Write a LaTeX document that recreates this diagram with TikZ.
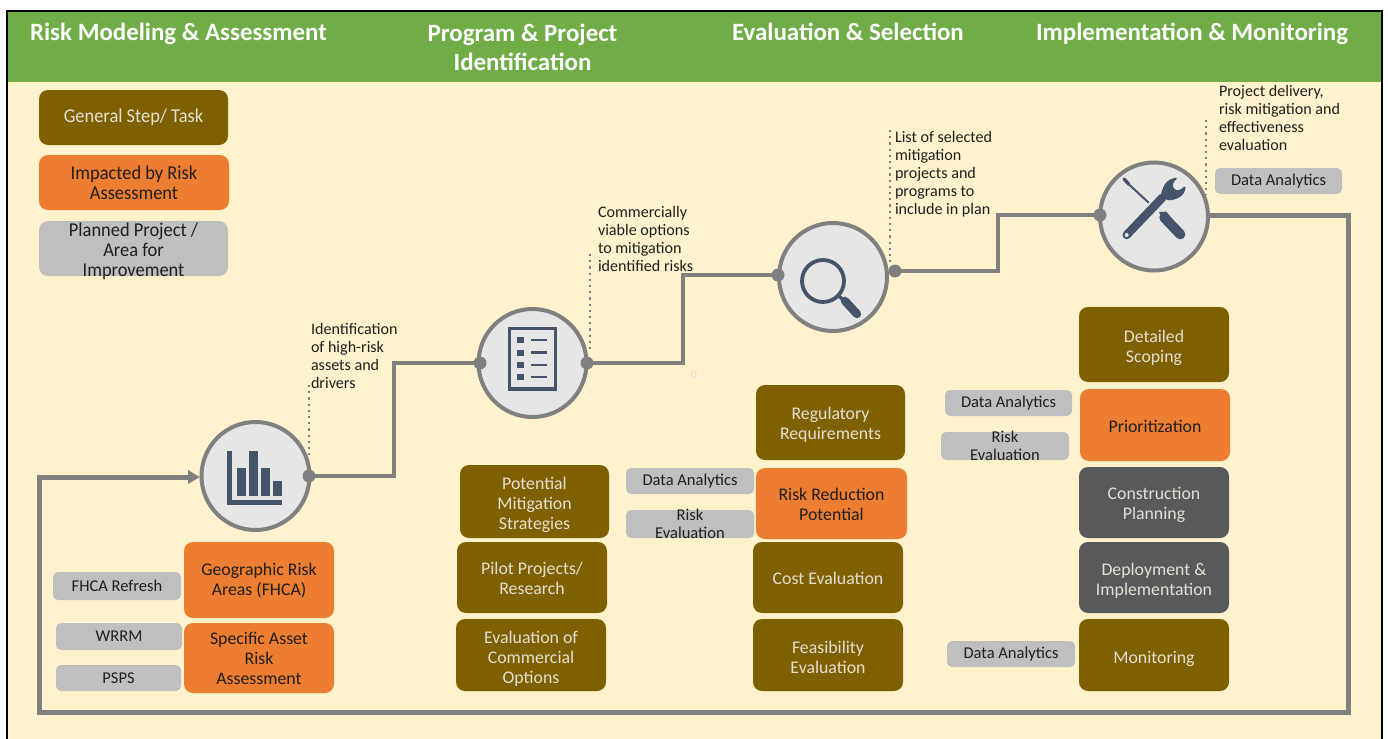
\documentclass[tikz,border=0pt]{standalone}
\usepackage{fontspec}
\setmainfont{Carlito}
\usetikzlibrary{arrows.meta}
\definecolor{cream}{HTML}{FFF2CC}
\definecolor{hdr}{HTML}{70AD47}
\definecolor{brn}{HTML}{7F6000}
\definecolor{org}{HTML}{ED7D31}
\definecolor{gry}{HTML}{BFBFBF}
\definecolor{dgr}{HTML}{58595B}
\definecolor{line}{HTML}{808080}
\definecolor{disc}{HTML}{E6E6E6}
\definecolor{icon}{HTML}{44546A}
\definecolor{ltxt}{HTML}{E3DFD3}
\definecolor{dtxt}{HTML}{1F1F1F}
\tikzset{
  every node/.style={inner sep=0pt,outer sep=0pt,align=flush center},
  rbox/.style={rounded corners=4.5pt,font=\fontsize{8.9}{10}\selectfont},
  brownbox/.style={rbox,fill=brn,text=ltxt},
  orangebox/.style={rbox,fill=org,text=dtxt},
  darkbox/.style={rbox,fill=dgr,text=ltxt},
  graybox/.style={rbox,fill=gry,text=dtxt,rounded corners=2.5pt,font=\fontsize{8.25}{9}\selectfont},
  legendfont/.style={font=\fontsize{9.8}{10}\selectfont\addfontfeature{FakeStretch=0.94}},
  legendgray/.style={rbox,fill=gry,text=dtxt,legendfont},
  headtext/.style={text=white,font=\bfseries\fontsize{12.45}{14.6}\selectfont},
  note/.style={align=left,anchor=north west,text=dtxt,font=\fontsize{8.05}{9}\selectfont},
  disk/.style={circle,draw=line,fill=disc,line width=2pt,minimum size=54pt},
  flow/.style={draw=line,line width=2.3pt},
  loopflow/.style={draw=line,line width=2.5pt,line join=miter},
  lead/.style={draw=line,line width=1.1pt,dotted},
  pin/.style={circle,fill=line,minimum size=6.5pt},
  glyph/.style={fill=icon,draw=none},
  glyphline/.style={draw=icon,line cap=round}
}
% \bx[text shift down, px]{name}{style}{x1}{y1}{x2}{y2}{text}
\newcommand{\bx}[8][0]{%
  \node[#3,minimum width={(#6-#4)*0.5pt},minimum height={(#7-#5)*0.5pt}] (#2) at ({(#4+#6)/2},{(#5+#7)/2}) {};
  \node[#3,fill=none,text width={(#6-#4)*0.5pt}] (#2t) at ({(#4+#6)/2},{(#5+#7)/2+#1}) {#8};}
\begin{document}
\begin{tikzpicture}[x=0.5pt,y=-0.5pt]
\useasboundingbox (0,0) rectangle (1388,739);
\fill[white] (0,0) rectangle (1388,739);
\fill[cream] (7,11) rectangle (1382,739);
\fill[hdr] (7,11) rectangle (1382,82);
\draw[black,line width=1pt] (7,739) -- (7,11) -- (1382,11) -- (1382,739);

% header
\node[headtext,anchor=base] (h1) at (178.5,40) {Risk Modeling \& Assessment};
\node[headtext] (h2) at (522.5,47) {Program \& Project\\Identification};
\node[headtext,anchor=base] (h3) at (848,40) {Evaluation \& Selection};
\node[headtext,anchor=base] (h4) at (1192,40) {Implementation \& Monitoring};

% legend
\bx{l1}{brownbox,legendfont}{39}{90}{228}{145}{General Step/ Task}
\bx[0.5]{l2}{orangebox,legendfont}{39}{155}{229}{210}{Impacted by Risk\\Assessment}
\bx[3]{l3}{legendgray}{39}{221}{228}{276}{Planned Project /\\Area for\\Improvement}

% disks
\node[disk] (c1) at (255.5,476) {};
\node[disk] (c2) at (532.5,363) {};
\node[disk] (c3) at (833,277) {};
\node[disk] (c4) at (1154,216.5) {};

% named junctions
\coordinate (p1) at (309,476);
\coordinate (p2in) at (480,363);
\coordinate (p2) at (587,363);
\coordinate (p3in) at (778,275);
\coordinate (p3) at (895,271);
\coordinate (p4in) at (1100,215);
\coordinate (c4out) at (1209,215);
\coordinate (k1) at (1348,215);
\coordinate (k2) at (1348,712);
\coordinate (k3) at (39,712);
\coordinate (k4) at (39,477);
\coordinate (c1in) at (200,477);

% flows
\draw[flow] (p1) -- (394,476) -- (394,363) -- (p2in);
\draw[flow] (p2) -- (683,363) -- (683,275) -- (p3in);
\draw[flow] (p3) -- (998,271) -- (998,215) -- (p4in);
\draw[loopflow,-{Triangle[length=6pt,width=6.5pt]}] (c4out) -- (k1) -- (k2) -- (k3) -- (k4) -- (c1in);

% pins
\foreach \n/\p in {a/p1,b/p2in,c/p2,d/p3in,e/p3,f/p4in}{\node[pin] (pin\n) at (\p) {};}

% dotted leads
\coordinate (d1a) at (309,385); \coordinate (d1b) at (309,456);
\coordinate (d2a) at (590,254); \coordinate (d2b) at (590,350);
\coordinate (d3a) at (890,130); \coordinate (d3b) at (890,265);
\coordinate (d4a) at (1206,120); \coordinate (d4b) at (1206,195);
\draw[lead] (d1a) -- (d1b);
\draw[lead] (d2a) -- (d2b);
\draw[lead] (d3a) -- (d3b);
\draw[lead] (d4a) -- (d4b);

% notes
\node[note] (n1) at (311,323) {Identification\\of high-risk\\assets and\\drivers};
\node[note] (n2) at (598,206) {Commercially\\viable options\\to mitigation\\identified risks};
\node[note] (n3) at (895,131) {List of selected\\mitigation\\projects and\\programs to\\include in plan};
\node[note] (n4) at (1219,85) {Project delivery,\\risk mitigation and\\effectiveness\\evaluation};
\node[text=ltxt,font=\fontsize{6}{7}\selectfont] (zero) at (694,375) {0};

% column 1
\bx[1]{a1}{orangebox}{184}{542}{334}{618}{Geographic Risk\\Areas (FHCA)}
\bx[0]{a2}{orangebox}{184}{623}{334}{693}{Specific Asset\\Risk\\Assessment}
\bx{g1}{graybox}{53}{572}{181}{600}{FHCA Refresh}
\bx{g2}{graybox}{56}{623}{182}{650}{WRRM}
\bx{g3}{graybox}{56}{665}{181}{691}{PSPS}

% column 2
\bx[3]{b1}{brownbox}{460}{465}{609}{538}{Potential\\Mitigation\\Strategies}
\bx[1]{b2}{brownbox}{457}{542}{607}{613}{Pilot Projects/\\Research}
\bx[4]{b3}{brownbox}{456}{619}{606}{691}{Evaluation of\\Commercial\\Options}

% column 3
\bx[2]{e1}{brownbox}{756}{385}{905}{460}{Regulatory\\Requirements}
\bx[1]{e2}{orangebox}{756}{468}{907}{539}{Risk Reduction\\Potential}
\bx[1]{e3}{brownbox}{753}{542}{903}{613}{Cost Evaluation}
\bx[2.5]{e4}{brownbox}{753}{619}{903}{691}{Feasibility\\Evaluation}
\bx{g4}{graybox}{626}{468}{754}{494}{Data Analytics}
\bx{g5}{graybox}{626}{510}{754}{538}{Risk\\Evaluation}

% column 4
\bx[3]{m1}{brownbox}{1079}{307}{1229}{382}{Detailed\\Scoping}
\bx[1]{m2}{orangebox}{1080}{389}{1230}{461}{Prioritization}
\bx[2]{m3}{darkbox}{1079}{467}{1229}{538}{Construction\\Planning}
\bx[3]{m4}{darkbox}{1079}{542}{1229}{613}{Deployment \&\\Implementation}
\bx[4]{m5}{brownbox}{1079}{619}{1229}{691}{Monitoring}
\bx{g6}{graybox}{945}{390}{1072}{416}{Data Analytics}
\bx{g7}{graybox}{941}{432}{1069}{460}{Risk\\Evaluation}
\bx{g8}{graybox}{947}{641}{1075}{667}{Data Analytics}
\bx{g9}{graybox}{1215}{168}{1342}{194}{Data Analytics}

% icon: bar chart
\fill[glyph] (227,451) rectangle (232,505);
\fill[glyph] (227,500) rectangle (282,505);
\fill[glyph] (237,468) rectangle (246,496);
\fill[glyph] (249,451) rectangle (258,496);
\fill[glyph] (261,468) rectangle (270,496);
\fill[glyph] (273,481) rectangle (282,496);

% icon: list
\draw[icon,line width=1.7pt] (509.5,328.5) rectangle (555.5,389);
\foreach \yy in {340,352.5,365,377}{
  \fill[glyph] (517,\yy-3) rectangle (524,\yy+3);
  \fill[glyph] (531,\yy-1.3) rectangle (547,\yy+1.3);
}

% icon: magnifier
\draw[icon,line width=1.9pt] (823,281) circle (21);
\draw[glyphline,line width=4.2pt] (845,301) -- (857,314);
\draw[icon,line width=1.6pt] (838,295) -- (846,303);

% icon: tools (coordinates in 3x units)
\begin{scope}[shift={(1105,165)},x=0.16667pt,y=-0.16667pt]
  \draw[glyphline,line width=1.7pt] (57,42) -- (72,58);
  \draw[glyphline,line width=1pt] (65,52) -- (130,112);
  \draw[icon,line width=5pt,line cap=round] (178,158) -- (226,208);
  \fill[glyph] (162,141) -- (184,140) -- (200,160) -- (180,178) -- cycle;
  \draw[glyphline,line width=4.2pt] (65,210) -- (172,98);
  \fill[glyph,rounded corners=1.5pt] (166,90) -- (178,58) -- (195,42) -- (220,37) -- (202,55) -- (205,72) -- (222,78) -- (243,60) -- (238,85) -- (220,100) -- (190,108) -- cycle;
  \fill[disc] (65,210) circle (6);
\end{scope}
\end{tikzpicture}
\end{document}
